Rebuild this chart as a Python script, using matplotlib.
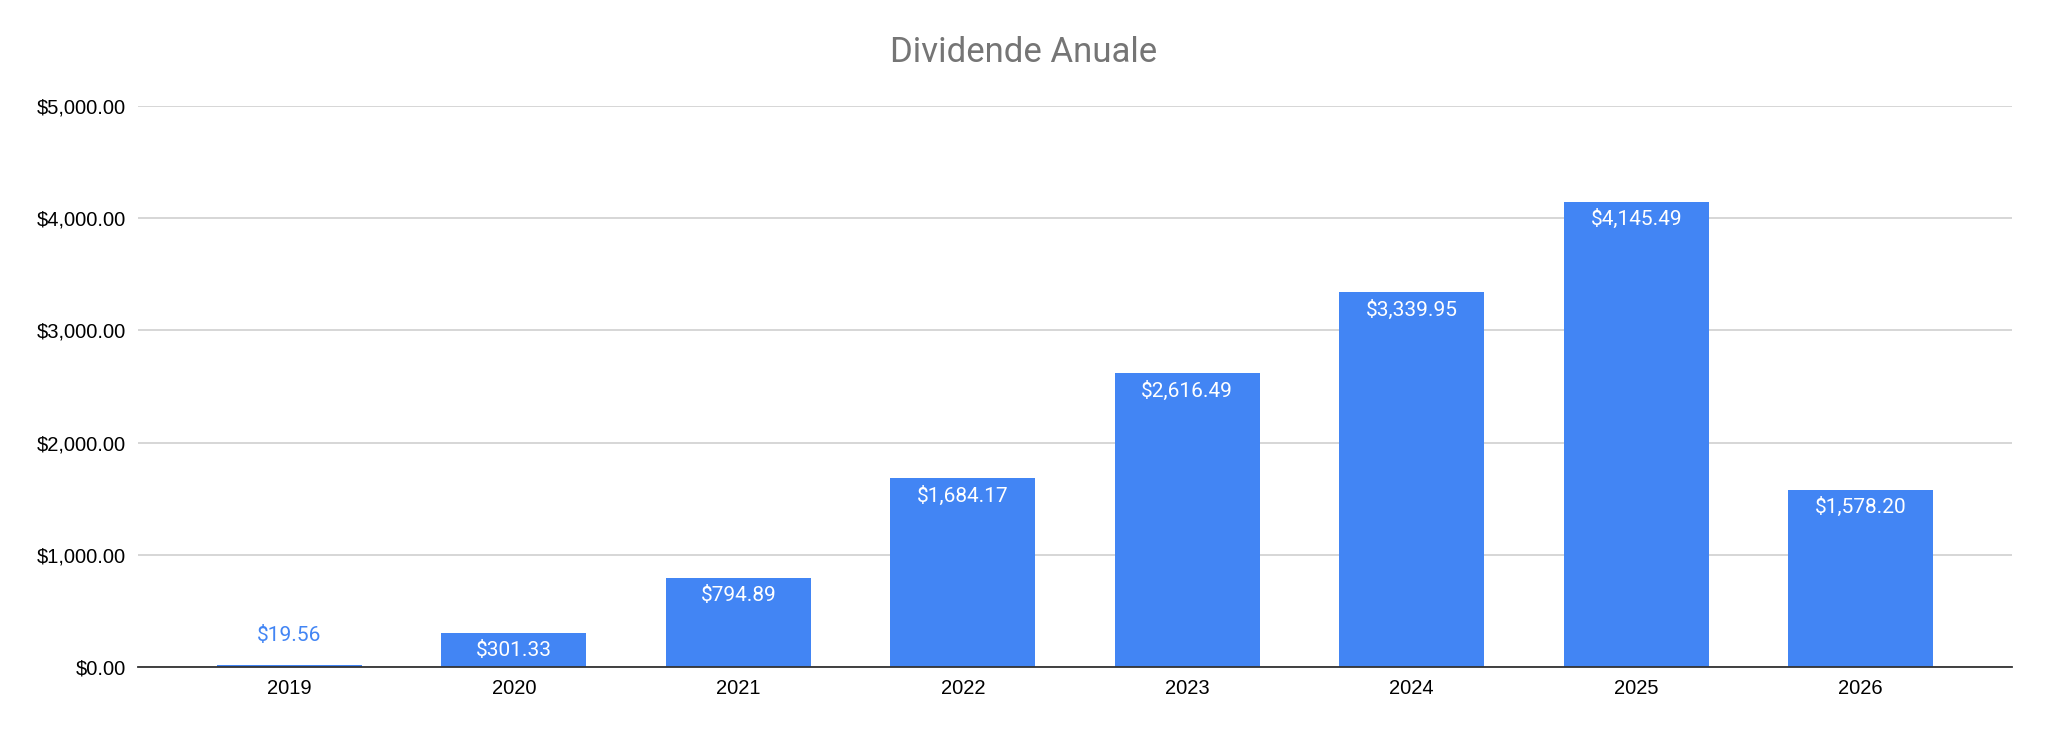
import numpy as np
import matplotlib
matplotlib.use("Agg")
import matplotlib.pyplot as plt
from matplotlib.ticker import FuncFormatter

years = ["2019", "2020", "2021", "2022", "2023", "2024", "2025", "2026"]
dividends = [19.56, 301.33, 794.89, 1684.17, 2616.49, 3339.95, 4145.49, 1578.20]
y_ticks = [0, 1000, 2000, 3000, 4000, 5000]

BAR_COLOR = "#4285f4"

fig = plt.figure(figsize=(20.48, 7.34), dpi=100)
ax = fig.add_axes([138 / 2048, 1 - 667 / 734, (2012 - 138) / 2048, (667 - 106) / 734])

x = np.arange(len(years))
ax.bar(x, dividends, width=0.646, color=BAR_COLOR, zorder=3)

ax.set_xlim(-0.674, len(years) - 1 + 0.674)
ax.set_ylim(0, 5000)
ax.set_yticks(y_ticks)
ax.yaxis.set_major_formatter(FuncFormatter(lambda v, p: f"${v:,.2f}"))
ax.set_xticks(x)
ax.set_xticklabels(years)

for s in ["top", "right", "left"]:
    ax.spines[s].set_visible(False)
ax.spines["bottom"].set_color("#333333")
ax.spines["bottom"].set_linewidth(1.3)
ax.spines["bottom"].set_zorder(4)

ax.grid(axis="y", color="#cccccc", linewidth=1.1, zorder=0)
ax.tick_params(axis="both", length=0, labelsize=14.5, colors="black", pad=9)
ax.tick_params(axis="y", pad=8.5)
for lab in ax.get_xticklabels() + ax.get_yticklabels():
    lab.set_family(["Liberation Sans", "DejaVu Sans"])

for xi, val in zip(x, dividends):
    txt = f"${val:,.2f}"
    if val > 300:
        ax.annotate(txt, (xi, val), xytext=(0, -12.5), textcoords="offset points",
                    ha="center", va="center", color="white", fontsize=15,
                    family=["Roboto", "DejaVu Sans"])
    else:
        ax.annotate(txt, (xi, val), xytext=(0, 21), textcoords="offset points",
                    ha="center", va="center", color=BAR_COLOR, fontsize=15,
                    family=["Roboto", "DejaVu Sans"])

fig.text(0.5, 1 - 52 / 734, "Dividende Anuale", ha="center", va="center",
         fontsize=25, color="#757575", family=["Roboto", "DejaVu Sans"])

fig.savefig("out.png", dpi=100, facecolor="white")
